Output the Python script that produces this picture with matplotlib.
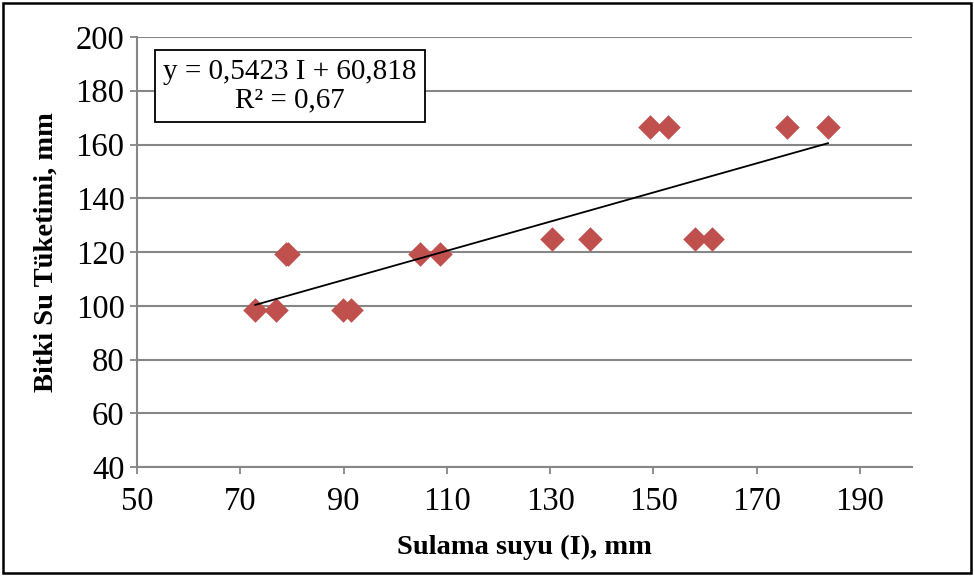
import matplotlib
matplotlib.use("Agg")
import matplotlib.pyplot as plt
from matplotlib.patches import Rectangle
import numpy as np

# irrigation water vs crop water use
sulama = [72.9, 76.9, 78.8, 79.3, 89.9, 91.5, 104.8, 108.6,
          130.4, 137.7, 149.4, 152.8, 158.1, 161.3, 175.8, 183.8]
tuketim = [98.3, 98.3, 119.3, 119.3, 98.3, 98.3, 119.3, 119.3,
           125.0, 125.0, 166.6, 166.6, 125.0, 125.0, 166.6, 166.6]
egim = 0.5423
kesim = 60.818
x_ticks = [50, 70, 90, 110, 130, 150, 170, 190]
y_ticks = [40, 60, 80, 100, 120, 140, 160, 180, 200]

plt.rcParams['font.family'] = ['Liberation Serif', 'DejaVu Serif']
grid_renk = '#868686'

fig = plt.figure(figsize=(9.74, 5.76), dpi=100)
ax = fig.add_axes([0.1407, 0.189, 0.7953, 0.7468])

ax.scatter(sulama, tuketim, marker='D', s=12.5 ** 2, color='#C0504D', zorder=3, linewidths=0)
xs = np.array([min(sulama), max(sulama)])
ax.plot(xs, egim * xs + kesim, color='black', lw=1.3, zorder=4)

ax.set_xlim(50, 200)
ax.set_ylim(40, 200)
ax.set_xticks(x_ticks)
ax.set_yticks(y_ticks)
ax.grid(axis='y', color=grid_renk, lw=1.5)
ax.set_axisbelow(True)
for s in ['top', 'right']:
    ax.spines[s].set_visible(False)
for s in ['left', 'bottom']:
    ax.spines[s].set_color(grid_renk)
    ax.spines[s].set_linewidth(1.5)
ax.tick_params(axis='both', colors=grid_renk, labelcolor='black', labelsize=23.5,
               length=5, width=1.3, direction='out')
ax.tick_params(axis='x', pad=9)
ax.tick_params(axis='y', pad=4)

ax.set_xlabel('Sulama suyu (I), mm', fontsize=20.5, fontweight='bold', labelpad=13)
ax.set_ylabel('Bitki Su Tüketimi, mm', fontsize=20.5, fontweight='bold', labelpad=12)

ax.text(0.197, 0.886, 'y = 0,5423 I + 60,818\nR² = 0,67', transform=ax.transAxes,
        ha='center', va='center', fontsize=21, linespacing=1.15, zorder=5,
        bbox=dict(boxstyle='square,pad=0.28', facecolor='white', edgecolor='black', lw=1.3))

fig.patches.append(Rectangle((0.003, 0.005), 0.994, 0.99, transform=fig.transFigure,
                             fill=False, edgecolor='black', lw=1.8))

fig.savefig('out.png', dpi=100)
